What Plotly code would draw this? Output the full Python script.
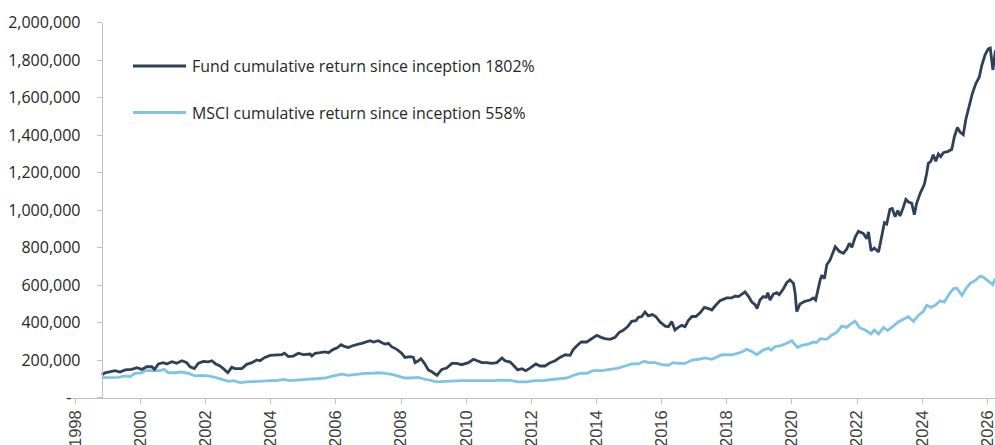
import pandas as pd
import plotly.graph_objects as go

# ---- data ----
fund_t = [1998.81, 1998.91, 1999.22, 1999.37, 1999.53, 1999.73, 1999.89, 2000.04, 2000.19, 2000.35,
          2000.43, 2000.55, 2000.70, 2000.81, 2000.96, 2001.11, 2001.27, 2001.42, 2001.52, 2001.65,
          2001.78, 2001.93, 2002.08, 2002.19, 2002.31, 2002.44, 2002.57, 2002.68, 2002.80, 2002.90,
          2003.11, 2003.26, 2003.42, 2003.57, 2003.67, 2003.82, 2003.98, 2004.18, 2004.34, 2004.42,
          2004.54, 2004.69, 2004.85, 2005.00, 2005.21, 2005.26, 2005.36, 2005.51, 2005.67, 2005.77,
          2005.92, 2006.03, 2006.16, 2006.28, 2006.38, 2006.49, 2006.59, 2006.69, 2006.79, 2006.95,
          2007.05, 2007.15, 2007.30, 2007.43, 2007.51, 2007.61, 2007.71, 2007.87, 2008.02, 2008.12,
          2008.28, 2008.38, 2008.43, 2008.53, 2008.61, 2008.72, 2008.84, 2008.96, 2009.10, 2009.25,
          2009.40, 2009.56, 2009.71, 2009.86, 2009.97, 2010.07, 2010.22, 2010.36, 2010.48, 2010.63,
          2010.78, 2010.94, 2011.04, 2011.10, 2011.19, 2011.35, 2011.45, 2011.58, 2011.71, 2011.83,
          2011.96, 2012.14, 2012.27, 2012.42, 2012.58, 2012.73, 2012.88, 2013.04, 2013.19, 2013.29,
          2013.39, 2013.53, 2013.70, 2013.86, 2014.01, 2014.14, 2014.26, 2014.42, 2014.57, 2014.69,
          2014.83, 2014.96, 2015.08, 2015.21, 2015.29, 2015.39, 2015.49, 2015.59, 2015.72, 2015.82,
          2015.95, 2016.11, 2016.21, 2016.31, 2016.41, 2016.51, 2016.62, 2016.72, 2016.82, 2016.93,
          2017.05, 2017.18, 2017.31, 2017.44, 2017.54, 2017.66, 2017.79, 2018.00, 2018.15, 2018.26,
          2018.36, 2018.56, 2018.66, 2018.77, 2018.87, 2018.93, 2019.02, 2019.12, 2019.21, 2019.26,
          2019.33, 2019.43, 2019.54, 2019.61, 2019.74, 2019.84, 2019.94, 2020.05, 2020.10, 2020.15,
          2020.25, 2020.40, 2020.56, 2020.66, 2020.73, 2020.87, 2020.92, 2021.00, 2021.07, 2021.17,
          2021.33, 2021.45, 2021.58, 2021.68, 2021.76, 2021.84, 2021.94, 2022.04, 2022.19, 2022.30,
          2022.35, 2022.43, 2022.53, 2022.66, 2022.76, 2022.84, 2022.91, 2023.01, 2023.08, 2023.17,
          2023.25, 2023.32, 2023.42, 2023.50, 2023.58, 2023.68, 2023.76, 2023.83, 2023.94, 2024.07,
          2024.14, 2024.19, 2024.27, 2024.34, 2024.42, 2024.50, 2024.57, 2024.65, 2024.80, 2024.91,
          2024.99, 2025.08, 2025.16, 2025.26, 2025.34, 2025.44, 2025.54, 2025.65, 2025.75, 2025.83,
          2025.93, 2026.03, 2026.09, 2026.17, 2026.22, 2026.25]
fund_v = [121, 133, 144, 137, 148, 151, 160, 151, 165, 165,
          151, 180, 187, 180, 192, 184, 197, 187, 165, 155,
          184, 194, 191, 197, 180, 169, 151, 133, 162, 155,
          155, 178, 187, 201, 197, 215, 226, 230, 230, 237,
          219, 222, 237, 230, 233, 222, 237, 240, 244, 240,
          258, 265, 283, 272, 268, 276, 283, 286, 290, 301,
          304, 297, 304, 292, 286, 290, 272, 258, 237, 215,
          219, 215, 187, 197, 208, 183, 148, 137, 119, 151,
          158, 183, 183, 176, 183, 187, 205, 197, 187, 187,
          183, 187, 205, 212, 197, 190, 173, 148, 155, 144,
          158, 180, 169, 169, 187, 197, 215, 229, 226, 258,
          276, 297, 297, 315, 333, 322, 315, 311, 322, 347,
          361, 379, 407, 411, 429, 433, 457, 436, 443, 433,
          404, 382, 379, 407, 361, 375, 386, 379, 411, 433,
          433, 453, 482, 475, 468, 493, 517, 532, 532, 542,
          539, 564, 542, 510, 496, 475, 521, 539, 535, 560,
          521, 553, 560, 549, 581, 613, 628, 610, 557, 459,
          500, 514, 521, 532, 521, 628, 653, 635, 709, 734,
          805, 781, 770, 792, 823, 802, 855, 887, 876, 848,
          884, 784, 798, 777, 859, 933, 926, 1005, 1009, 965,
          998, 969, 1015, 1058, 1044, 1037, 976, 1037, 1090, 1140,
          1197, 1250, 1261, 1296, 1261, 1300, 1286, 1307, 1314, 1325,
          1392, 1442, 1417, 1403, 1485, 1552, 1623, 1677, 1709, 1773,
          1829, 1861, 1865, 1748, 1829, 1853]

msci_t = [1998.81, 1999.07, 1999.32, 1999.53, 1999.68, 1999.83, 2000.04, 2000.14, 2000.29, 2000.45,
          2000.60, 2000.72, 2000.86, 2001.06, 2001.27, 2001.47, 2001.68, 2001.88, 2002.08, 2002.29,
          2002.49, 2002.70, 2002.85, 2003.06, 2003.26, 2003.47, 2003.72, 2003.98, 2004.18, 2004.39,
          2004.59, 2004.80, 2005.05, 2005.36, 2005.67, 2005.92, 2006.18, 2006.38, 2006.64, 2006.89,
          2007.10, 2007.30, 2007.51, 2007.76, 2007.97, 2008.12, 2008.33, 2008.53, 2008.68, 2008.89,
          2009.10, 2009.35, 2009.61, 2009.86, 2010.12, 2010.37, 2010.63, 2010.89, 2011.09, 2011.35,
          2011.60, 2011.86, 2012.11, 2012.37, 2012.63, 2012.88, 2013.09, 2013.29, 2013.50, 2013.70,
          2013.90, 2014.16, 2014.42, 2014.67, 2014.88, 2015.08, 2015.29, 2015.47, 2015.61, 2015.80,
          2016.00, 2016.21, 2016.36, 2016.51, 2016.72, 2016.93, 2017.13, 2017.33, 2017.54, 2017.85,
          2018.15, 2018.41, 2018.61, 2018.77, 2018.92, 2019.12, 2019.28, 2019.36, 2019.48, 2019.69,
          2019.84, 2020.00, 2020.08, 2020.18, 2020.30, 2020.51, 2020.66, 2020.76, 2020.87, 2021.07,
          2021.22, 2021.38, 2021.53, 2021.68, 2021.84, 2021.94, 2022.09, 2022.25, 2022.43, 2022.53,
          2022.66, 2022.81, 2022.94, 2023.12, 2023.27, 2023.42, 2023.58, 2023.73, 2023.88, 2024.04,
          2024.14, 2024.27, 2024.40, 2024.55, 2024.68, 2024.83, 2024.96, 2025.06, 2025.22, 2025.34,
          2025.47, 2025.62, 2025.78, 2025.88, 2026.03, 2026.17, 2026.22, 2026.25]
msci_v = [107, 108, 108, 116, 112, 130, 133, 144, 144, 148,
          144, 151, 133, 133, 137, 130, 116, 119, 116, 108,
          98, 87, 91, 80, 84, 87, 87, 91, 91, 98,
          91, 94, 94, 101, 105, 116, 126, 119, 126, 130,
          130, 133, 130, 123, 112, 105, 105, 108, 101, 94,
          84, 87, 91, 91, 91, 91, 87, 91, 94, 92,
          84, 84, 91, 91, 97, 101, 105, 119, 130, 130,
          144, 144, 151, 158, 169, 180, 180, 194, 187, 187,
          176, 173, 187, 183, 183, 201, 205, 212, 205, 229,
          229, 240, 258, 247, 229, 254, 265, 254, 272, 279,
          290, 304, 286, 269, 279, 286, 297, 294, 315, 311,
          333, 350, 382, 375, 397, 408, 372, 361, 340, 361,
          340, 375, 358, 382, 404, 418, 432, 407, 439, 461,
          493, 482, 493, 517, 510, 553, 581, 585, 546, 581,
          610, 624, 649, 642, 621, 603, 628, 632]

y_ticks = [0, 200000, 400000, 600000, 800000, 1000000, 1200000, 1400000, 1600000, 1800000, 2000000]
y_tick_text = ["-\u2007", "200,000", "400,000", "600,000", "800,000", "1,000,000",
               "1,200,000", "1,400,000", "1,600,000", "1,800,000", "2,000,000"]
x_tick_years = list(range(1998, 2027, 2))

fund_name = "Fund cumulative return since inception 1802%"
msci_name = "MSCI cumulative return since inception 558%"


def to_date(y):
    yr = int(y)
    return pd.Timestamp(yr, 1, 1) + pd.Timedelta(days=(y - yr) * 365.25)


fund_x = [to_date(t) for t in fund_t]
msci_x = [to_date(t) for t in msci_t]
fund_y = [v * 1000 for v in fund_v]
msci_y = [v * 1000 for v in msci_v]

FUND_C = "#2e4156"
MSCI_C = "#7fc4e2"
AXIS_C = "#bfbfbf"

W, H = 995, 445
left_px, top_px, bottom_px, yaxis_px = 71, 22.7, 397.7, 101.7

fig = go.Figure()
fig.add_trace(go.Scatter(x=msci_x, y=msci_y, mode="lines", name=msci_name,
                         line=dict(color=MSCI_C, width=2.8), showlegend=False))
fig.add_trace(go.Scatter(x=fund_x, y=fund_y, mode="lines", name=fund_name,
                         line=dict(color=FUND_C, width=2.8), showlegend=False))

# legend drawn as keys + text
legend_items = [(fund_name, FUND_C, 66), (msci_name, MSCI_C, 112.5)]
for name, col, ypx in legend_items:
    yp = 1 - ypx / H
    fig.add_shape(type="line", xref="paper", yref="paper", x0=133 / W, x1=186 / W,
                  y0=yp, y1=yp, line=dict(color=col, width=3))
    fig.add_annotation(xref="paper", yref="paper", x=190 / W, y=yp, text=name, showarrow=False,
                       xanchor="left", yanchor="middle",
                       font=dict(family="Open Sans", size=15.9, color="#262626"))

fig.update_layout(
    width=W, height=H,
    margin=dict(l=0, r=0, t=0, b=0, autoexpand=False),
    paper_bgcolor="white", plot_bgcolor="white",
    showlegend=False,
    xaxis=dict(
        domain=[left_px / W, 1],
        type="date",
        range=["1997-11-13", "2026-03-28"],
        tickvals=[pd.Timestamp(y, 1, 1) for y in x_tick_years],
        ticktext=[str(y) for y in x_tick_years],
        tickangle=-90,
        ticklabeloverflow="allow",
        ticks="outside", ticklen=5, tickcolor=AXIS_C, tickwidth=1,
        showline=True, linecolor=AXIS_C, linewidth=1,
        showgrid=False, zeroline=False, automargin=False,
        tickfont=dict(family="Liberation Sans", size=16.5, color="#404040"),
    ),
    yaxis=dict(
        domain=[1 - bottom_px / H, 1 - top_px / H],
        range=[0, 2000000],
        anchor="free", position=yaxis_px / W,
        tickvals=y_ticks, ticktext=y_tick_text,
        ticks="outside", ticklen=5, tickcolor=AXIS_C, tickwidth=1,
        showline=True, linecolor=AXIS_C, linewidth=1,
        showgrid=False, zeroline=False, automargin=False,
        ticklabelstandoff=13,
        tickfont=dict(family="Open Sans", size=16, color="#262626"),
    ),
)

fig.write_html("out.html",
               config={"displayModeBar": False},
               post_script="document.body.style.margin='0';document.body.style.overflow='hidden';")
